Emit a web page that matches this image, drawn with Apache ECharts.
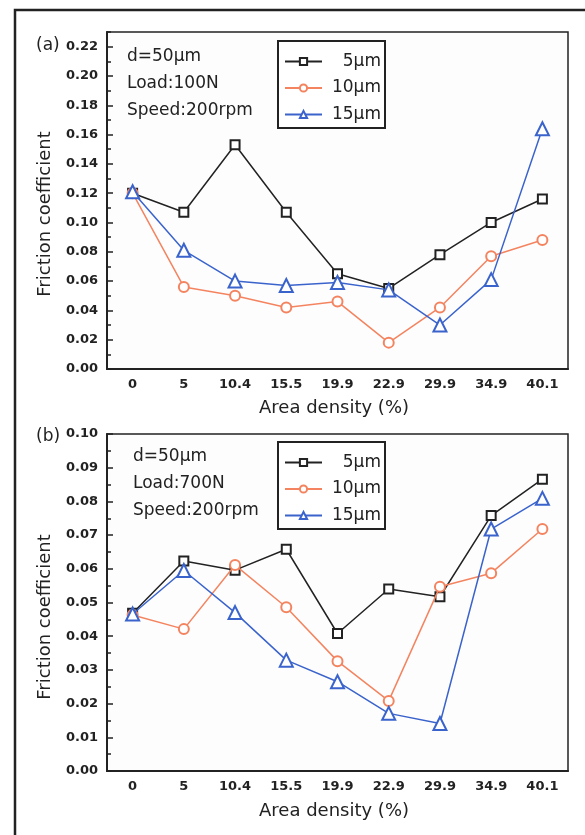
<!DOCTYPE html>
<html>
<head>
<meta charset="utf-8">
<script src="https://cdn.jsdelivr.net/npm/echarts@6/dist/echarts.min.js"></script>
<style>html,body{margin:0;padding:0;background:#fff;}#c{width:585px;height:835px;}</style>
</head>
<body>
<div id="c"></div>
<script>
const categories = ['0', '5', '10.4', '15.5', '19.9', '22.9', '29.9', '34.9', '40.1'];
const seriesNames = ['5µm', '10µm', '15µm'];
// Panel (a): Load 100N
const a5 = [0.120, 0.107, 0.153, 0.107, 0.065, 0.055, 0.078, 0.100, 0.116];
const a10 = [0.120, 0.056, 0.050, 0.042, 0.046, 0.018, 0.042, 0.077, 0.088];
const a15 = [0.121, 0.081, 0.060, 0.057, 0.059, 0.054, 0.030, 0.061, 0.164];
// Panel (b): Load 700N
const b5 = [0.0468, 0.0623, 0.0596, 0.0658, 0.0408, 0.0540, 0.0517, 0.0758, 0.0866];
const b10 = [0.0463, 0.0421, 0.0611, 0.0486, 0.0326, 0.0208, 0.0547, 0.0587, 0.0718];
const b15 = [0.0466, 0.0595, 0.0470, 0.0329, 0.0265, 0.0171, 0.0141, 0.0718, 0.0809];
const yTicksA = {min: 0, max: 0.23, interval: 0.02, minor: 0.01};
const yTicksB = {min: 0, max: 0.10, interval: 0.01, minor: 0.005};
const annA = ['d=50µm', 'Load:100N', 'Speed:200rpm'];
const annB = ['d=50µm', 'Load:700N', 'Speed:200rpm'];

const FONT = 'DejaVu Sans';
const INK = '#222';
const colors = ['#222222', '#f4845f', '#3a63cc'];
const symbols = ['emptyRect', 'emptyCircle', 'emptyTriangle'];
const sizes = [9, 10, 13];

const grids = [
  {left: 107, top: 32, width: 461, height: 337},
  {left: 107, top: 434, width: 461, height: 337}
];

function xAxes(gi) {
  return [
    {
      type: 'category', gridIndex: gi, data: categories, boundaryGap: true,
      axisLine: {lineStyle: {color: INK, width: 2}},
      axisTick: {alignWithLabel: true, inside: true, length: 6, lineStyle: {color: INK, width: 1.5}},
      axisLabel: {color: INK, fontFamily: FONT, fontSize: 13, fontWeight: 'bold', margin: 9},
      splitLine: {show: false}
    },
    {
      type: 'category', gridIndex: gi, data: categories, boundaryGap: true, position: 'bottom',
      axisLine: {show: false},
      axisTick: {inside: true, length: 4, lineStyle: {color: INK, width: 1.5}},
      axisLabel: {show: false},
      splitLine: {show: false}
    }
  ];
}
function yAxes(gi, t) {
  return [{
    type: 'value', gridIndex: gi, min: t.min, max: t.max, interval: t.interval,
    axisLine: {show: true, lineStyle: {color: INK, width: 2}},
    axisTick: {show: true, inside: true, length: 6, lineStyle: {color: INK, width: 1.5}},
    axisLabel: {color: INK, fontFamily: FONT, fontSize: 13, fontWeight: 'bold', margin: 9,
      showMaxLabel: Math.abs(t.max / t.interval - Math.round(t.max / t.interval)) < 1e-6,
      formatter: v => v.toFixed(2)},
    splitLine: {show: false}
  }, {
    type: 'value', gridIndex: gi, min: t.min, max: t.max, interval: t.minor, position: 'left',
    axisLine: {show: false},
    axisTick: {show: true, inside: true, length: 4, lineStyle: {color: INK, width: 1.5}},
    axisLabel: {show: false},
    splitLine: {show: false}
  }];
}
function mkSeries(data, i, xi, yi) {
  return {
    type: 'line', name: seriesNames[i], data: data, xAxisIndex: xi, yAxisIndex: yi,
    symbol: symbols[i], symbolSize: sizes[i], showAllSymbol: true,
    itemStyle: {color: colors[i], borderWidth: 1.8},
    lineStyle: {color: colors[i], width: 1.5},
    z: 2 + i, animation: false
  };
}
function legend(top) {
  return {
    left: 278, top: top, orient: 'vertical', data: seriesNames,
    backgroundColor: '#fff', borderColor: INK, borderWidth: 2,
    padding: [12, 4, 5, 6], itemWidth: 37, itemHeight: 9, itemGap: 9.5,
    textStyle: {fontFamily: FONT, fontSize: 17, color: INK,
      rich: {t: {width: 54, align: 'right', fontFamily: FONT, fontSize: 17, color: INK}}},
    formatter: n => '{t|' + n + '}',
    selectedMode: false
  };
}
function ann(lines, x, ys) {
  return lines.map((s, k) => ({
    type: 'text', left: x, top: ys[k] - 10,
    style: {text: s, fontFamily: FONT, fontSize: 17, fill: INK}
  }));
}
function yName(cy) {
  return {
    type: 'text', x: 45, y: cy, rotation: Math.PI / 2,
    style: {text: 'Friction coefficient', fontFamily: FONT, fontSize: 18, fill: INK, align: 'center', verticalAlign: 'middle'}
  };
}
function xName(cy) {
  return {
    type: 'text', x: 334, y: cy,
    style: {text: 'Area density (%)', fontFamily: FONT, fontSize: 18, fill: INK, align: 'center', verticalAlign: 'middle'}
  };
}

const option = {
  backgroundColor: '#fff',
  animation: false,
  grid: grids.map(g => Object.assign({show: true, borderColor: INK, borderWidth: 1.5, backgroundColor: '#fdfdfe', containLabel: false}, g)),
  xAxis: xAxes(0).concat(xAxes(1)),
  yAxis: yAxes(0, yTicksA).concat(yAxes(1, yTicksB)),
  legend: [legend(41), legend(442)],
  series: [
    mkSeries(a5, 0, 0, 0), mkSeries(a10, 1, 0, 0), mkSeries(a15, 2, 0, 0),
    mkSeries(b5, 0, 2, 2), mkSeries(b10, 1, 2, 2), mkSeries(b15, 2, 2, 2)
  ],
  graphic: [
    {type: 'rect', shape: {x: 15, y: 10, width: 620, height: 860}, style: {fill: 'none', stroke: INK, lineWidth: 2.5}, z: -10, silent: true},
    {type: 'text', left: 36, top: 37, style: {text: '(a)', fontFamily: FONT, fontSize: 17, fill: INK}},
    {type: 'text', left: 36, top: 428, style: {text: '(b)', fontFamily: FONT, fontSize: 17, fill: INK}},
    yName(214), yName(617), xName(408), xName(811)
  ].concat(ann(annA, 127, [58, 85, 112])).concat(ann(annB, 133, [458, 485, 512]))
};
const chart = echarts.init(document.getElementById('c'), null, {renderer: 'canvas'});
chart.setOption(option);
</script>
</body>
</html>
